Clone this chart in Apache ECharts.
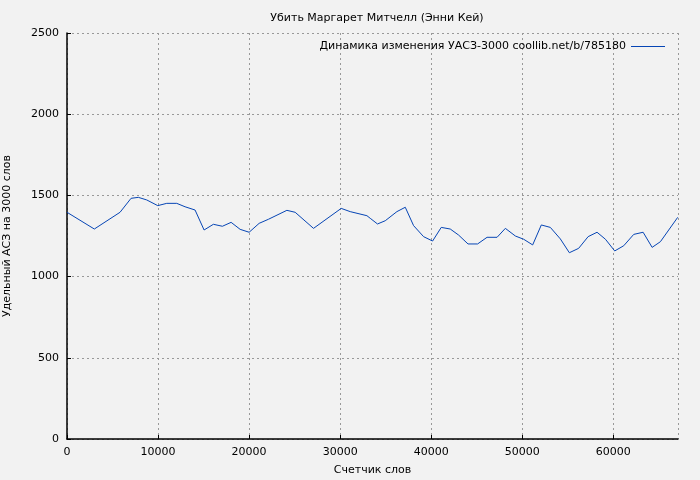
<!DOCTYPE html>
<html><head><meta charset="utf-8">
<script src="https://cdn.jsdelivr.net/npm/echarts@6/dist/echarts.min.js"></script>
<style>html,body{margin:0;background:#f2f2f2}#c{width:700px;height:480px}</style>
</head><body><div id="c"></div>
<script>
const wordCounts = [0,3000,5825,7034,7835,8756,9966,10955,12054,12966,14065,15054,16076,17067,18024,19013,20002,21101,22123,24145,25057,27072,30113,31102,32937,33300,34100,34950,36230,37150,38060,39160,40150,41100,42090,43000,44040,45090,46130,47230,48140,49240,50150,51140,52090,53080,54180,55170,56190,57230,58210,59130,60150,61140,62240,63270,64260,65170,67070];
const uasValues = [1396,1293,1396,1482,1488,1472,1437,1451,1451,1430,1410,1287,1322,1310,1334,1291,1273,1328,1353,1408,1396,1297,1420,1400,1375,1359,1324,1344,1400,1427,1314,1246,1219,1303,1293,1256,1201,1201,1242,1242,1297,1250,1230,1195,1318,1303,1232,1147,1174,1246,1273,1230,1158,1190,1260,1273,1180,1215,1365];
const seriesName = 'Динамика изменения УАСЗ-3000 coollib.net/b/785180';
const data = wordCounts.map((x,i)=>[x,uasValues[i]]);
const font = 'DejaVu Sans';
const grid = {show:true,lineStyle:{color:'#999',type:[2,3]}};
const fmt = v => String(v);
echarts.init(document.getElementById('c')).setOption({
  backgroundColor:'#f2f2f2',
  textStyle:{fontFamily:font},
  title:{text:'Убить Маргарет Митчелл (Энни Кей)',left:372,textAlign:'center',top:8,textStyle:{fontSize:11,fontWeight:'normal',color:'#000',fontFamily:font}},
  legend:{right:30,top:36,itemWidth:34,itemHeight:1,itemGap:8,align:'right',icon:'rect',textStyle:{fontSize:11,color:'#000',fontFamily:font},data:[seriesName]},
  grid:{left:67,right:22,top:33,bottom:41,show:false,containLabel:false,outerBoundsMode:'none'},
  xAxis:{type:'value',min:0,max:67100,interval:10000,name:'Счетчик слов',nameLocation:'middle',nameGap:26,nameTextStyle:{fontSize:11,color:'#000'},
    axisLine:{onZero:false,lineStyle:{color:'#000',width:1.5}},axisTick:{inside:true,length:4,lineStyle:{color:'#000'}},
    axisLabel:{fontSize:11,color:'#000',showMaxLabel:false,formatter:fmt},splitLine:grid},
  yAxis:{type:'value',min:0,max:2500,interval:500,name:'Удельный АСЗ на 3000 слов',nameLocation:'middle',nameGap:54,nameTextStyle:{fontSize:11,color:'#000'},
    axisLine:{show:true,lineStyle:{color:'#000',width:1.5}},axisTick:{show:true,inside:true,length:4,lineStyle:{color:'#000'}},
    axisLabel:{fontSize:11,color:'#000',formatter:fmt},splitLine:grid},
  series:[{name:seriesName,type:'line',data:data,symbol:'none',lineStyle:{color:'#0645b5',width:1},itemStyle:{color:'#0645b5'}}]
});
</script></body></html>
